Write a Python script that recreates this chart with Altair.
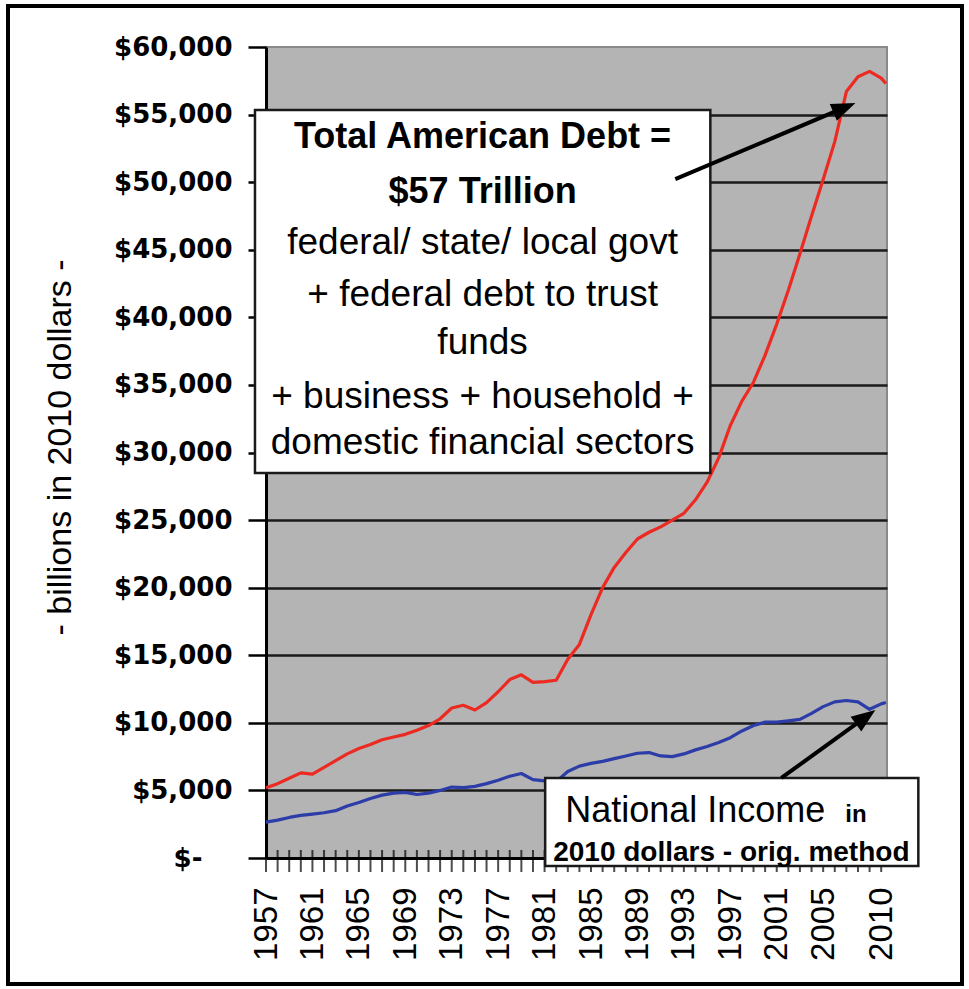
import altair as alt
import pandas as pd

# ---------------- data ----------------
years = list(range(1957, 2011)) + [2010.4]
total_debt = [5200, 5500, 5900, 6300, 6200, 6700, 7200, 7700, 8100, 8400,
              8750, 8950, 9150, 9450, 9800, 10300, 11100, 11300, 10950, 11500,
              12300, 13200, 13550, 13000, 13050, 13150, 14700, 15800, 18000, 20000,
              21500, 22600, 23600, 24100, 24500, 25000, 25500, 26500, 27800, 29600,
              32000, 33800, 35200, 37200, 39500, 42000, 44700, 47500, 50200, 53000,
              56700, 57800, 58200, 57700, 57300]
national_income = [2650, 2800, 3000, 3150, 3250, 3350, 3500, 3850, 4100, 4400,
                   4650, 4800, 4850, 4700, 4800, 5000, 5250, 5200, 5300, 5500,
                   5750, 6050, 6250, 5800, 5700, 5650, 6400, 6800, 7000, 7150,
                   7350, 7550, 7750, 7800, 7550, 7500, 7700, 8000, 8250, 8550,
                   8900, 9400, 9800, 10050, 10050, 10150, 10250, 10700, 11200, 11550,
                   11650, 11550, 11000, 11400, 11500]
label_years = [1957, 1961, 1965, 1969, 1973, 1977, 1981, 1985, 1989, 1993,
               1997, 2001, 2005, 2010]
tick_years = list(range(1957, 2011))
y_ticks = list(range(0, 60001, 5000))

series_names = ["Total American Debt", "National Income"]
series_colors = ["#ec2a22", "#2c3ca8"]

bold_lines = ["Total American Debt =", "$57 Trillion"]
detail_lines = ["federal/ state/ local govt", "+ federal debt to trust", "funds",
                "+ business + household +", "domestic financial sectors"]
income_line1 = "National Income"
income_in = "in"
income_line2 = "2010 dollars - orig. method"

# ---------------- tables ----------------
n = len(years)
df = pd.DataFrame({
    "year": years * 2,
    "value": total_debt + national_income,
    "series": [series_names[0]] * n + [series_names[1]] * n,
})
ticks_df = pd.DataFrame({"year": tick_years})

boxes = pd.DataFrame({"x": [1956.05, 1981.05], "x2": [1995.28, 2013.2],
                      "y": [28480, -590], "y2": [55340, 5920]})
arrows = pd.DataFrame({"x": [1992.26, 2001.4], "y": [50230, 5920],
                       "x2": [2006.98, 2008.8], "y2": [55565, 10513]})
heads = pd.DataFrame({"x": [2007.78, 2009.5], "y": [55860, 10950],
                      "angle": [67.1, 54.1]})
bold_df = pd.DataFrame({"t": bold_lines, "x": [1975.66] * 2, "y": [53340, 49270]})
detail_df = pd.DataFrame({"t": detail_lines, "x": [1975.66] * 5,
                          "y": [45500, 41650, 38100, 34100, 30700]})
inc1_df = pd.DataFrame({"t": [income_line1], "x": [1982.78], "y": [2660]})
inc_in_df = pd.DataFrame({"t": [income_in], "x": [2006.9], "y": [2660]})
inc2_df = pd.DataFrame({"t": [income_line2], "x": [1997.09], "y": [-200]})

# ---------------- scales / axes ----------------
xscale = alt.Scale(domain=[1957, 2010.5], nice=False, zero=False)
yscale = alt.Scale(domain=[0, 60000], nice=False)

x_axis = alt.Axis(values=label_years, format="d", labelAngle=-90,
                  labelFont="Liberation Sans", labelFontSize=33, labelColor="black",
                  labelPadding=29, ticks=False, tickSize=0,
                  domainColor="black", domainWidth=3, grid=False, title=None,
                  labelFlush=False, labelOverlap=False, labelBound=False)
y_axis = alt.Axis(values=y_ticks,
                  labelExpr="datum.value == 0 ? '$-' : '$' + format(datum.value, ',')",
                  labelFont="DejaVu Sans", labelFontWeight="bold", labelFontSize=26,
                  labelColor="black",
                  labelPadding={"condition": {"test": "datum.value == 0", "value": 46}, "value": 16},
                  tickSize=18, tickColor="black",
                  tickWidth=2.5, domainColor="black", domainWidth=3,
                  grid=True, gridColor="#1a1a1a", gridWidth=2.5,
                  gridOpacity={"condition": {"test": "datum.value == 0 || datum.value == 60000", "value": 0}, "value": 1},
                  labelFlush=False, labelOverlap=False,
                  title="- billions in 2010 dollars -", titleFont="Liberation Sans",
                  titleFontSize=34, titleFontWeight="normal", titleColor="black",
                  titleX=-206, titleY=400, titleAngle=-90, titleAlign="center",
                  titleBaseline="middle")

base_x = alt.X("year:Q", scale=xscale, axis=x_axis)
base_y = alt.Y("value:Q", scale=yscale, axis=y_axis)

lines = alt.Chart(df).mark_line(strokeWidth=3.2, strokeJoin="round").encode(
    x=base_x, y=base_y,
    color=alt.Color("series:N", scale=alt.Scale(domain=series_names, range=series_colors),
                    legend=None),
    detail="series:N",
)

xticks = alt.Chart(ticks_df).mark_tick(orient="vertical", color="black", thickness=2,
                                       size=22, yOffset=3).encode(
    x=alt.X("year:Q", scale=xscale), y=alt.datum(0))

box_layer = alt.Chart(boxes).mark_rect(fill="white", stroke="#1a1a1a", strokeWidth=2.5).encode(
    x=alt.X("x:Q", scale=xscale), x2="x2:Q",
    y=alt.Y("y:Q", scale=yscale), y2="y2:Q")

arrow_layer = alt.Chart(arrows).mark_rule(color="black", strokeWidth=4).encode(
    x=alt.X("x:Q", scale=xscale), x2="x2:Q",
    y=alt.Y("y:Q", scale=yscale), y2="y2:Q")

head_layer = alt.Chart(heads).mark_point(shape="M0,0L-0.38,1L0.38,1Z", filled=True,
                                         color="black", opacity=1, size=2304).encode(
    x=alt.X("x:Q", scale=xscale), y=alt.Y("y:Q", scale=yscale),
    angle=alt.Angle("angle:Q", scale=None))

bold_text = alt.Chart(bold_df).mark_text(font="Liberation Sans", fontSize=36,
                                         fontWeight="bold", color="black",
                                         align="center", baseline="middle").encode(
    x=alt.X("x:Q", scale=xscale), y=alt.Y("y:Q", scale=yscale), text="t:N")
detail_text = alt.Chart(detail_df).mark_text(font="Liberation Sans", fontSize=37,
                                             color="black", align="center",
                                             baseline="middle").encode(
    x=alt.X("x:Q", scale=xscale), y=alt.Y("y:Q", scale=yscale), text="t:N")
inc1_text = alt.Chart(inc1_df).mark_text(font="Liberation Sans", fontSize=36,
                                         color="black", align="left",
                                         baseline="alphabetic").encode(
    x=alt.X("x:Q", scale=xscale), y=alt.Y("y:Q", scale=yscale), text="t:N")
inc_in_text = alt.Chart(inc_in_df).mark_text(font="Liberation Sans", fontSize=24,
                                             fontWeight="bold", color="black",
                                             align="left", baseline="alphabetic").encode(
    x=alt.X("x:Q", scale=xscale), y=alt.Y("y:Q", scale=yscale), text="t:N")
inc2_text = alt.Chart(inc2_df).mark_text(font="Liberation Sans", fontSize=28,
                                         fontWeight="bold", color="black",
                                         align="center", baseline="alphabetic").encode(
    x=alt.X("x:Q", scale=xscale), y=alt.Y("y:Q", scale=yscale), text="t:N")

frame = alt.Chart(ticks_df).mark_rect(fillOpacity=0, stroke="black", strokeWidth=3).encode(
    x=alt.value(-258), x2=alt.value(696), y=alt.value(-41), y2=alt.value(937))

chart = alt.layer(
    lines, xticks, box_layer, arrow_layer, head_layer,
    bold_text, detail_text, inc1_text, inc_in_text, inc2_text, frame
).properties(
    width=621, height=811,
    autosize=alt.AutoSizeParams(type="none"),
    padding={"left": 266, "top": 47, "right": 82, "bottom": 131},
    background="white",
).configure_view(
    fill="#b4b4b4", stroke="#8a8a8a", strokeWidth=2
)

chart.save("out.html", embed_options={"renderer": "svg", "actions": False})
